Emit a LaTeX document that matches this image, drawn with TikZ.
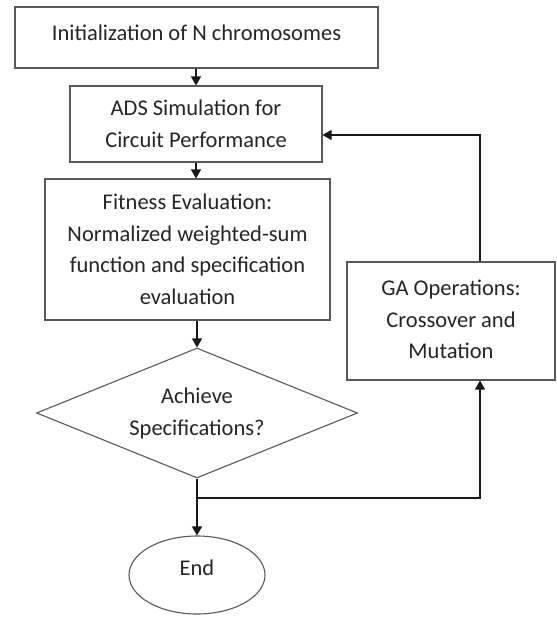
\documentclass[tikz,border=0pt]{standalone}
\usepackage{fontspec}
\setmainfont{Carlito}
\usetikzlibrary{shapes.geometric,arrows.meta}
\begin{document}
\begin{tikzpicture}[x=1pt,y=-1pt,
  box/.style={draw=black!65,line width=1.1pt,rectangle,inner sep=0pt,align=center,text=black!85,
    font=\fontsize{22.5}{31.5}\selectfont},
  arr/.style={draw=black!90,line width=1.4pt,-{Triangle[length=9pt,width=10pt]}}]
\useasboundingbox (0,0) rectangle (556,617);
\node[box,minimum width=363pt,minimum height=61pt] (init) at (196.5,37.5) {\raisebox{-3pt}[0pt][0pt]{Initialization of N chromosomes}};
\node[box,minimum width=252pt,minimum height=76pt] (ads) at (196,124) {ADS Simulation for\\Circuit Performance};
\node[box,minimum width=285pt,minimum height=141pt] (fit) at (187.5,249.5) {Fitness Evaluation:\\Normalized weighted-sum\\function and specification\\evaluation};
\node[box,shape=diamond,aspect=2.47,minimum width=321pt,minimum height=130pt] (dec) at (197,413) {\raisebox{-3pt}{\begin{tabular}{@{}c@{}}Achieve\\Specifications?\end{tabular}}};
\node[box,minimum width=208pt,minimum height=118pt] (ga) at (451,321) {\raisebox{3pt}{\begin{tabular}{@{}c@{}}GA Operations:\\Crossover and\\Mutation\end{tabular}}};
\node[box,shape=ellipse,minimum width=136pt,minimum height=78pt] (end) at (197,575) {\raisebox{0pt}[0pt][0pt]{End}};
\coordinate (m) at (197,498);
\draw[arr] (init.south -| ads.north) -- (ads.north);
\draw[arr] (ads.south) -- (ads.south |- fit.north);
\draw[arr] (dec.north |- fit.south) -- (dec.north);
\draw[arr] (dec.south) -- (end.north);
\draw[arr,line width=1.2pt] (m) -| ([xshift=29pt]ga.south);
\draw[arr,line width=1.2pt] ([xshift=29pt]ga.north) |- ([yshift=-11pt]ads.east);
\end{tikzpicture}
\end{document}
